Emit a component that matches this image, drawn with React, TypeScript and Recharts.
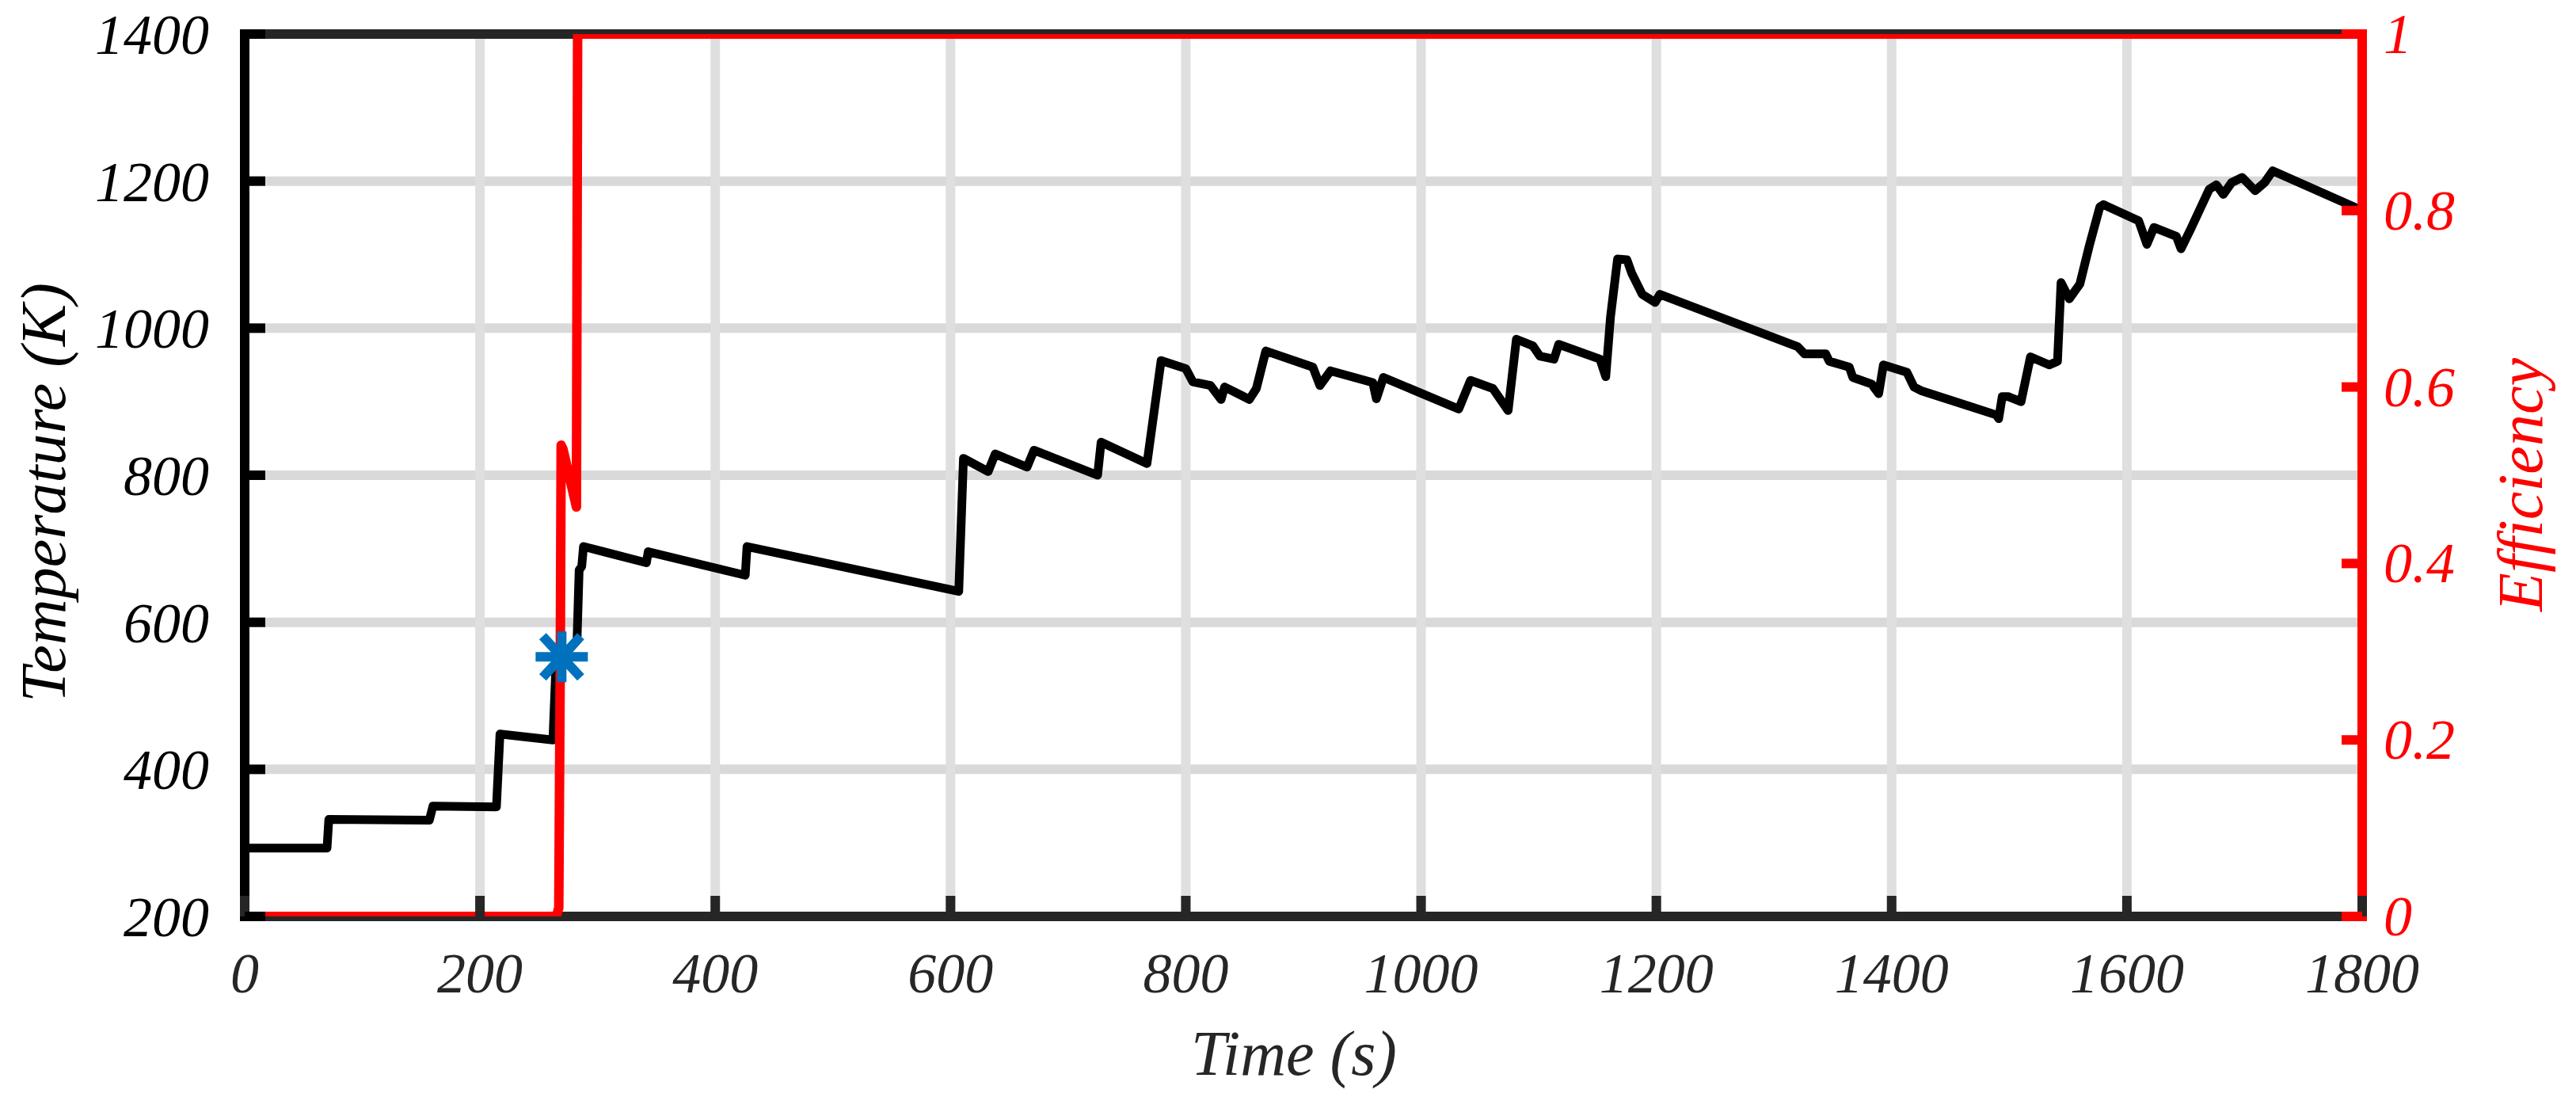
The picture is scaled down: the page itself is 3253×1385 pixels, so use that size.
import React from "react";
import {
  CartesianGrid,
  ComposedChart,
  Line,
  Scatter,
  XAxis,
  YAxis
} from "recharts";

// temperature trace (K) vs time (s)
const tempTime = [
  0, 70, 71.5, 157, 160, 214, 217, 262, 264.5, 270, 282.5, 284.3, 286.5, 288, 341.5, 343, 425.5, 427,
  607, 611, 632, 638, 665, 671, 725, 728, 767, 779, 800, 806, 821, 830, 833, 848, 854, 860, 868,
  908, 914, 923, 959, 962, 968, 1032, 1042, 1061, 1074, 1081, 1095, 1101, 1113, 1117, 1152, 1157,
  1161, 1167, 1175, 1179, 1188, 1199, 1203, 1320, 1326, 1344, 1347, 1364, 1367, 1383, 1389, 1393,
  1413, 1419, 1425, 1489, 1491, 1494, 1499, 1510, 1518, 1534, 1541, 1544, 1551, 1560, 1568, 1577,
  1580, 1610, 1617, 1623, 1642, 1646, 1654, 1670, 1676, 1682, 1689, 1698, 1709, 1717, 1724, 1800
];
const tempK = [
  293, 293, 332, 331, 350, 349, 448, 440, 539, 553, 575, 671, 676, 703, 681, 696, 664, 703,
  642, 823, 805, 829, 811, 834, 800, 845, 816, 956, 945, 927, 922, 903, 920, 908, 903, 918, 969,
  947, 922, 942, 926, 904, 933, 890, 929, 918, 888, 985, 976, 962, 958, 978, 958, 934,
  1015, 1094, 1093, 1075, 1046, 1035, 1046, 975, 965, 965, 955, 947, 933, 924, 911, 950,
  940, 920, 915, 882, 877, 907, 907, 900, 961, 950, 955, 1062, 1040, 1060, 1112, 1165,
  1168, 1146, 1114, 1137, 1125, 1108, 1134, 1189, 1195, 1182, 1198, 1205, 1187, 1198, 1214, 1160
];

// efficiency trace
const effTime = [0, 265, 267, 268.3, 269, 270.5, 282, 283, 1800];
const effVal = [0, 0, 0.01, 0.3, 0.534, 0.53, 0.464, 1, 1];

// ignition marker
const markTime = [269.5];
const markK = [553];

const timeTicks = [0, 200, 400, 600, 800, 1000, 1200, 1400, 1600, 1800];
const tempTicks = [200, 400, 600, 800, 1000, 1200, 1400];
const effTicks = [0, 0.2, 0.4, 0.6, 0.8, 1];

const tempData = tempTime.map((t, i) => ({ t, T: tempK[i] }));
const effData = effTime.map((t, i) => ({ t, eff: effVal[i] }));
const markData = markTime.map((t, i) => ({ t, T: markK[i] }));

const W = 3253;
const H = 1385;
const P = { left: 309, right: 2983, top: 43, bottom: 1157 };
const FONT = "Liberation Serif, Times New Roman, serif";
const TICK_LEN = 26;
const LW = 12;
const DARK = "#262626";
const RED = "#ff0000";

function BottomTick({ x, payload }: any) {
  return (
    <g>
      <line x1={x} x2={x} y1={P.bottom} y2={P.bottom - TICK_LEN} stroke={DARK} strokeWidth={LW} />
      <text x={x} y={P.bottom + 96} textAnchor="middle" fontFamily={FONT} fontStyle="italic"
        fontSize={72} fill={DARK}>{payload.value}</text>
    </g>
  );
}

function TopTick({ x }: any) {
  return <line x1={x} x2={x} y1={P.top} y2={P.top + TICK_LEN} stroke={DARK} strokeWidth={LW} />;
}

function LeftTick({ y, payload }: any) {
  return (
    <g>
      <line x1={P.left} x2={P.left + TICK_LEN} y1={y} y2={y} stroke="#000" strokeWidth={LW} />
      <text x={264} y={y + 25} textAnchor="end" fontFamily={FONT} fontStyle="italic"
        fontSize={72} fill="#000">{payload.value}</text>
    </g>
  );
}

function RightTick({ y, payload }: any) {
  return (
    <g>
      <line x1={P.right} x2={P.right - TICK_LEN} y1={y} y2={y} stroke={RED} strokeWidth={LW} />
      <text x={3010} y={y + 24} textAnchor="start" fontFamily={FONT} fontStyle="italic"
        fontSize={72} fill={RED}>{payload.value}</text>
    </g>
  );
}

function Asterisk({ cx, cy }: any) {
  const c = "#0072BD";
  return (
    <g stroke={c} strokeWidth={12}>
      <line x1={cx - 33} x2={cx + 33} y1={cy} y2={cy} />
      <line x1={cx} x2={cx} y1={cy - 32} y2={cy + 32} />
      <line x1={cx - 24} x2={cx + 24} y1={cy - 26} y2={cy + 26} />
      <line x1={cx - 24} x2={cx + 24} y1={cy + 26} y2={cy - 26} />
    </g>
  );
}

export default function App() {
  return (
    <div style={{ position: "absolute", left: 0, top: 0, width: W, height: H, background: "#fff" }}>
      <ComposedChart width={W} height={H} margin={{ top: 0, right: 0, bottom: 0, left: 0 }}>
        <CartesianGrid xAxisId="bottom" yAxisId="left" vertical={false} stroke="#d9d9d9" strokeWidth={LW} />
        <CartesianGrid xAxisId="bottom" yAxisId="left" horizontal={false} stroke="#dfdfdf" strokeWidth={LW} />
        {/* inner half of the top / bottom box edges, kept under the curves */}
        <CartesianGrid xAxisId="bottom" yAxisId="left" vertical={false}
          horizontalPoints={[P.top + 3, P.bottom - 3]} stroke={DARK} strokeWidth={6} />
        <XAxis xAxisId="bottom" dataKey="t" type="number" domain={[0, 1800]} ticks={timeTicks}
          interval={0} height={H - P.bottom} tickLine={false} tick={BottomTick}
          axisLine={{ stroke: DARK, strokeWidth: 6, transform: "translate(0,3)" }}
          label={{
            content: ({ viewBox }: any) => (
              <text x={viewBox.x + viewBox.width / 2 - 12} y={P.bottom + 200} textAnchor="middle"
                fontFamily={FONT} fontStyle="italic" fontSize={80} fill={DARK}>Time (s)</text>
            )
          }} />
        <XAxis xAxisId="top" orientation="top" dataKey="t" type="number" domain={[0, 1800]}
          ticks={timeTicks} interval={0} height={P.top} tickLine={false} tick={TopTick}
          axisLine={{ stroke: DARK, strokeWidth: 6, transform: "translate(0,-3)" }} />
        <YAxis yAxisId="left" dataKey="T" type="number" domain={[200, 1400]} ticks={tempTicks}
          interval={0} width={P.left} tickLine={false} tick={LeftTick}
          axisLine={{ stroke: "#000", strokeWidth: LW, strokeLinecap: "square" }}
          label={{
            content: () => (
              <text x={82} y={622} transform="rotate(-90 82 622)" textAnchor="middle"
                fontFamily={FONT} fontStyle="italic" fontSize={80} fill="#000">Temperature (K)</text>
            )
          }} />
        <YAxis yAxisId="right" orientation="right" dataKey="eff" type="number" domain={[0, 1]}
          ticks={effTicks} interval={0} width={W - P.right} tickLine={false} tick={RightTick}
          axisLine={{ stroke: RED, strokeWidth: LW, strokeLinecap: "square" }}
          label={{
            content: () => (
              <text x={3210} y={612} transform="rotate(-90 3210 612)" textAnchor="middle"
                fontFamily={FONT} fontStyle="italic" fontSize={80} fill={RED}>Efficiency</text>
            )
          }} />
        <Scatter xAxisId="bottom" yAxisId="left" data={markData} dataKey="T"
          shape={(p: any) => <Asterisk cx={p.cx} cy={p.cy} />} isAnimationActive={false} />
        <Line xAxisId="bottom" yAxisId="left" data={tempData} dataKey="T" type="linear"
          stroke="#000" strokeWidth={11} strokeLinejoin="round" dot={false} activeDot={false}
          isAnimationActive={false} />
        <Line xAxisId="bottom" yAxisId="right" data={effData} dataKey="eff" type="linear"
          stroke={RED} strokeWidth={12} strokeLinejoin="round" dot={false} activeDot={false}
          isAnimationActive={false} />
      </ComposedChart>
    </div>
  );
}
